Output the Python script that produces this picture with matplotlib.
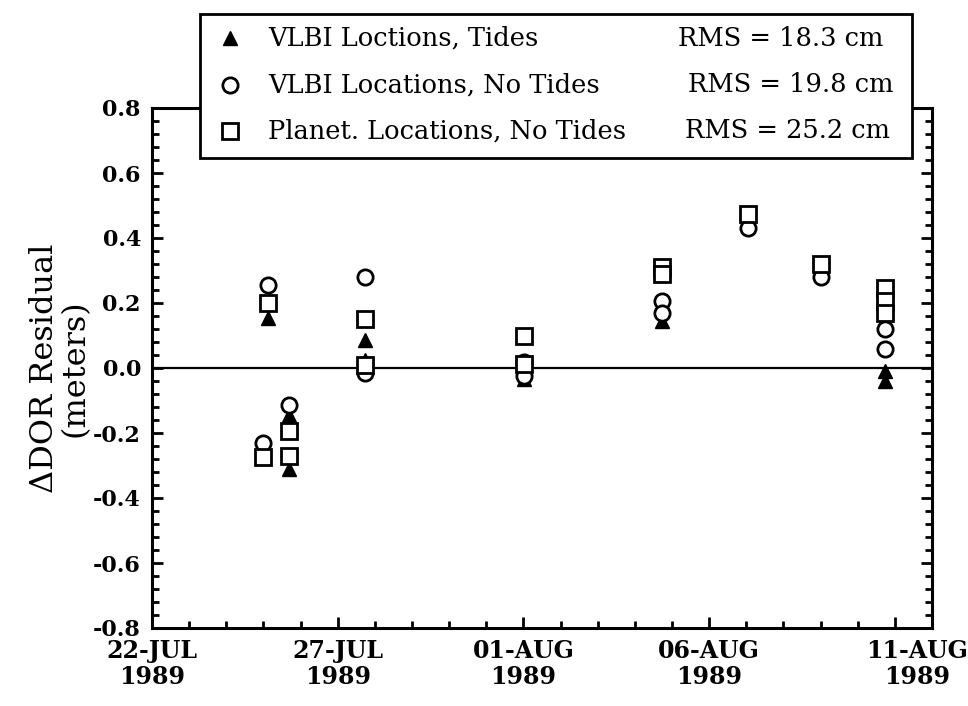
import matplotlib
matplotlib.use("Agg")
import matplotlib.pyplot as plt
import matplotlib.transforms as mtransforms
from matplotlib.lines import Line2D
from matplotlib.patches import Rectangle
from matplotlib.ticker import MultipleLocator

# days counted from 22-JUL-1989
tick_days = [0, 5, 10, 15, 20]
tick_labels = ["22-JUL\n1989", "27-JUL\n1989", "01-AUG\n1989", "06-AUG\n1989", "11-AUG\n1989"]

# VLBI locations, tides (filled triangles)
tides_x = [3.13, 3.70, 3.70, 5.73, 5.73, 10.02, 13.72, 19.74, 19.74]
tides_y = [0.155, -0.145, -0.31, 0.085, 0.025, -0.035, 0.145, -0.01, -0.04]

# VLBI locations, no tides (open circles)
vlbi_x = [3.13, 3.0, 3.70, 5.73, 5.73, 10.02, 10.02, 13.72, 13.72, 16.05, 18.0, 19.74, 19.74]
vlbi_y = [0.255, -0.23, -0.115, 0.28, -0.015, 0.02, -0.025, 0.205, 0.17, 0.43, 0.28, 0.12, 0.06]

# planetary locations, no tides (open squares)
planet_x = [3.13, 3.0, 3.70, 3.70, 5.73, 5.73, 10.02, 10.02, 13.72, 13.72, 16.05, 18.0, 19.74, 19.74, 19.74]
planet_y = [0.20, -0.275, -0.195, -0.27, 0.15, 0.01, 0.10, 0.012, 0.31, 0.29, 0.475, 0.32, 0.245, 0.205, 0.17]

series_names = ["VLBI Loctions, Tides", "VLBI Locations, No Tides", "Planet. Locations, No Tides"]
rms_labels = ["RMS = 18.3 cm", "RMS = 19.8 cm", "RMS = 25.2 cm"]

plt.rcParams['font.family'] = ['DejaVu Serif']
plt.rcParams['axes.unicode_minus'] = False

W, H = 968, 706
fig = plt.figure(figsize=(W / 100, H / 100), dpi=100)
ax = fig.add_axes([152 / W, 1 - 628 / H, 780 / W, 520 / H])

ax.axhline(0, color='black', lw=1.6, zorder=1)

ax.plot(tides_x, tides_y, linestyle='none', marker='^', ms=10, color='black', zorder=2)
ax.plot(vlbi_x, vlbi_y, linestyle='none', marker='o', ms=11, mfc='white', mec='black', mew=2, zorder=3)
ax.plot(planet_x, planet_y, linestyle='none', marker='s', ms=11, mfc='white', mec='black', mew=2, zorder=4)

ax.set_xlim(0, 21)
ax.set_ylim(-0.8, 0.8)
ax.set_xticks(tick_days)
ax.set_xticklabels(tick_labels, fontsize=17, fontweight='bold', linespacing=1.1)
ax.xaxis.set_minor_locator(MultipleLocator(1))
ax.yaxis.set_major_locator(MultipleLocator(0.2))
ax.yaxis.set_minor_locator(MultipleLocator(0.04))
ax.set_yticklabels([f"{v:.1f}" for v in ax.get_yticks()], fontsize=16, fontweight='bold')

ax.tick_params(which='both', direction='in', width=2, left=True, right=True, bottom=True, top=False)
ax.tick_params(which='major', length=8)
ax.tick_params(which='minor', length=5)
ax.tick_params(axis='y', pad=8)
ax.tick_params(axis='x', pad=8)
for s in ax.spines.values():
    s.set_linewidth(2.2)

# the last date label sits a little right of its tick in the original
last = ax.get_xticklabels()[-1]
last.set_transform(last.get_transform() + mtransforms.ScaledTranslation(0.22, 0, fig.dpi_scale_trans))

ax.set_ylabel("\u0394DOR Residual\n(meters)", fontsize=23, linespacing=0.95, labelpad=2)

# legend box drawn on top of the axes frame
fig.add_artist(Rectangle((200 / W, 1 - 158 / H), 712 / W, 144 / H, transform=fig.transFigure,
                         facecolor='white', edgecolor='black', lw=2, zorder=10))
row_y = [38, 85, 131]
markers = [dict(marker='^', ms=10, color='black'),
           dict(marker='o', ms=11, mfc='white', mec='black', mew=2),
           dict(marker='s', ms=11, mfc='white', mec='black', mew=2)]
rms_x = [678, 688, 685]
for name, rms, y, mk, rx in zip(series_names, rms_labels, row_y, markers, rms_x):
    fig.add_artist(Line2D([230 / W], [1 - y / H], transform=fig.transFigure, linestyle='none', zorder=11, **mk))
    fig.text(268 / W, 1 - y / H, name, fontsize=18.5, va='center', zorder=12)
    fig.text(rx / W, 1 - y / H, rms, fontsize=18.5, va='center', zorder=12)

fig.savefig("out.png", dpi=100)
